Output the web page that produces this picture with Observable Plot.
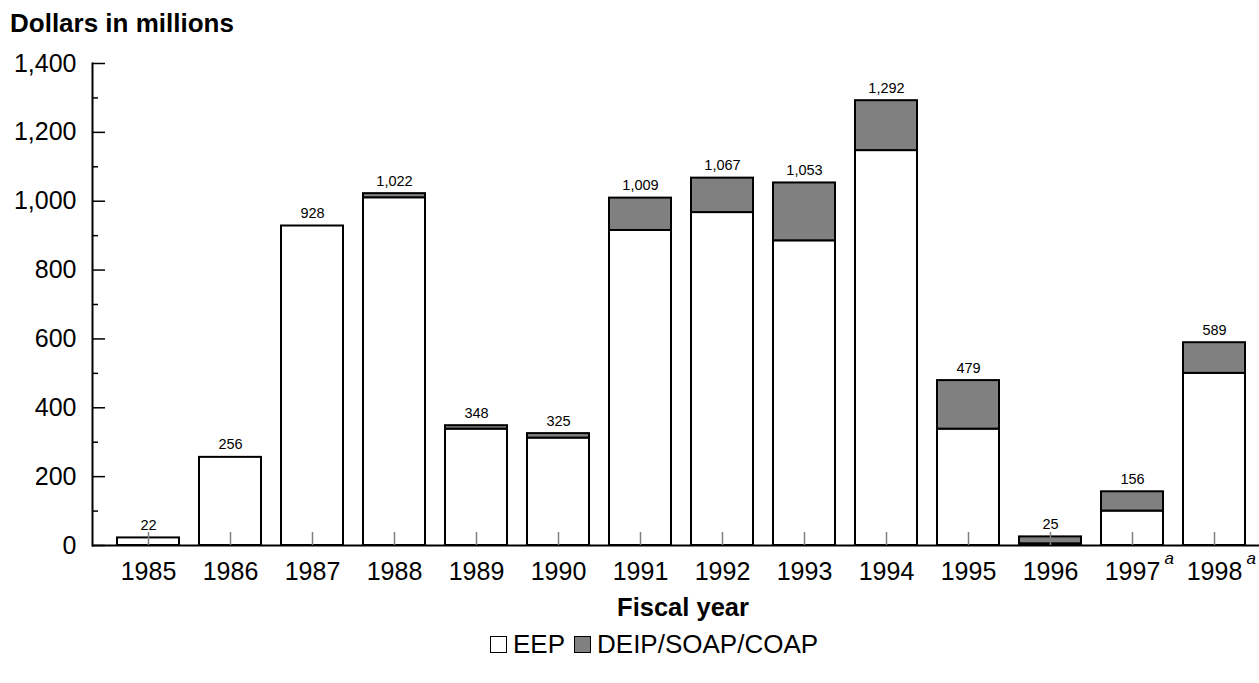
<!DOCTYPE html>
<html><head><meta charset="utf-8">
<script src="https://cdn.jsdelivr.net/npm/d3@7"></script>
<script src="https://cdn.jsdelivr.net/npm/@observablehq/plot@0.6"></script>
<style>
body{margin:0;background:#fff;font-family:"Liberation Sans",Arial,sans-serif;color:#000;}
#wrap{position:relative;width:1259px;height:683px;overflow:hidden;}
#title{position:absolute;left:10px;top:8px;font-weight:bold;font-size:26px;}
#chart{position:absolute;left:0;top:45px;}
#legend{position:absolute;left:490px;top:629px;font-size:26px;display:flex;align-items:center;white-space:nowrap;}
.sw{display:inline-block;width:15px;height:15px;border:1.5px solid #000;margin-right:6px;box-sizing:content-box;}
</style></head>
<body>
<div id="wrap">
  <div id="title">Dollars in millions</div>
  <div id="chart"></div>
  <div id="legend"></div>
</div>
<script>
const years = ["1985","1986","1987","1988","1989","1990","1991","1992","1993","1994","1995","1996","1997","1998"];
const eep   = [22, 256, 928, 1010, 338, 312, 915, 967, 885, 1147, 338, 5, 100, 500];
const other = [0, 0, 0, 12, 10, 13, 94, 100, 168, 145, 141, 20, 56, 89];
const seriesNames  = ["EEP", "DEIP/SOAP/COAP"];
const seriesColors = ["#ffffff", "#808080"];
const yTicksMajor = [0, 200, 400, 600, 800, 1000, 1200, 1400];
const yTicksMinor = [100, 300, 500, 700, 900, 1100, 1300];
const footnoted = ["1997", "1998"];
const xLabel = "Fiscal year";

const rows = [];
years.forEach((y, i) => {
  rows.push({year: y, series: seriesNames[0], value: eep[i]});
  rows.push({year: y, series: seriesNames[1], value: other[i]});
});
const totals = years.map((y, i) => ({year: y, total: eep[i] + other[i]}));
const fmt = d3.format(",");

const chart = Plot.plot({
  width: 1259, height: 580,
  marginTop: 18, marginBottom: 80, marginLeft: 92, marginRight: 0,
  style: {fontFamily: "'Liberation Sans', Arial, sans-serif", background: "white", color: "black", overflow: "visible"},
  x: {type: "band", domain: years, range: [106, 1257], paddingInner: 0.24, paddingOuter: 0.12, axis: null},
  y: {domain: [0, 1400], axis: null},
  color: {domain: seriesNames, range: seriesColors},
  marks: [
    Plot.barY(rows.filter(d => d.value > 0), {x: "year", y: "value", fill: "series", stroke: "black", strokeWidth: 2}),
    Plot.text(totals, {x: "year", y: "total", text: d => fmt(d.total), lineAnchor: "bottom", dy: -8, fontSize: 14.5}),
    Plot.ruleY([0], {stroke: "black", strokeWidth: 2}),
    Plot.frame({anchor: "left", stroke: "black", strokeWidth: 2}),
    Plot.axisY({ticks: yTicksMajor, tickSize: -13, fill: "none", strokeWidth: 1.5}),
    Plot.axisY({ticks: yTicksMinor, tickSize: -6, fill: "none", strokeWidth: 1.5}),
    Plot.axisY({ticks: yTicksMajor, tickSize: 0, tickPadding: 16, tickFormat: fmt, fontSize: 25, label: null}),
    Plot.axisX({tickSize: -13, fill: "none", stroke: "#808080", strokeWidth: 1.5}),
    Plot.axisX({tickSize: 0, tickPadding: 17, fontSize: 25, label: null}),
    Plot.text(footnoted, {x: d => d, text: () => "a", frameAnchor: "bottom", dx: 32, dy: 18, textAnchor: "start", fontSize: 17, fontStyle: "italic"}),
    Plot.text([xLabel], {frameAnchor: "bottom", dx: 7, dy: 70, fontSize: 25.5, fontWeight: "bold"})
  ]
});
document.getElementById("chart").appendChild(chart);

const legend = document.getElementById("legend");
seriesNames.forEach((name, i) => {
  const sw = document.createElement("span");
  sw.className = "sw";
  sw.style.background = seriesColors[i];
  legend.appendChild(sw);
  const t = document.createElement("span");
  t.textContent = name;
  t.style.marginRight = "9px";
  legend.appendChild(t);
});
</script>
</body></html>
